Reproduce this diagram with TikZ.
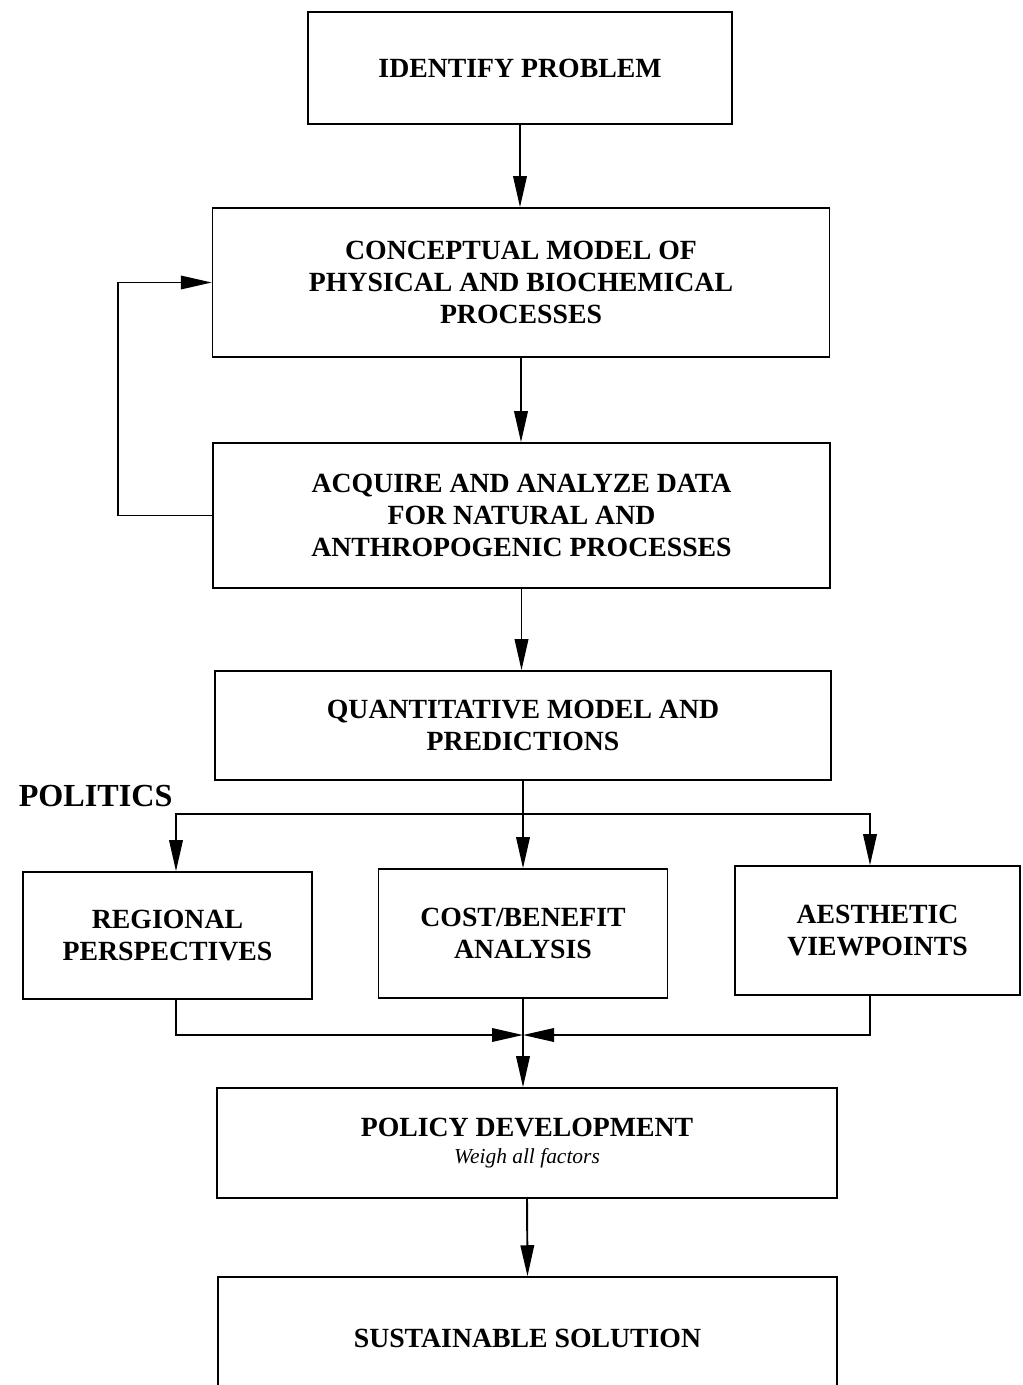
\documentclass[tikz,border=0pt]{standalone}
\usepackage{fontspec}
\setmainfont{Liberation Serif}
\usetikzlibrary{arrows.meta}

\tikzset{
  stage/.style={
    rectangle,
    draw,
    line width=0.9pt,
    inner sep=2pt,
    text centered,
    align=center,
    font=\bfseries\fontsize{15.8}{18.2}\selectfont
  },
}

\begin{document}
\begin{tikzpicture}[x=0.02cm, y=-0.02cm, -{Triangle[length=6.2mm,width=2.7mm]}, line width=1.1pt]
  \useasboundingbox (0,0) rectangle (1022,1385);
  \node[stage, minimum width=8.48cm, minimum height=2.24cm] (idp) at (520, 68) {IDENTIFY PROBLEM};
  \node[stage, minimum width=12.34cm, minimum height=2.98cm] (concept) at (521, 282.5) {CONCEPTUAL MODEL OF\\PHYSICAL AND BIOCHEMICAL\\PROCESSES};
  \node[stage, minimum width=12.34cm, minimum height=2.9cm] (acquire) at (521.5, 515.5) {ACQUIRE AND ANALYZE DATA\\FOR NATURAL AND\\ANTHROPOGENIC PROCESSES};
  \node[stage, minimum width=12.32cm, minimum height=2.18cm] (quant) at (523, 725.5) {QUANTITATIVE MODEL AND\\PREDICTIONS};
  \node[anchor=west, font=\bfseries\fontsize{18.3}{20}\selectfont] (politics) at (12, 796) {POLITICS};
  \node[stage, minimum width=5.78cm, minimum height=2.54cm] (regional) at (167.5, 935.5) {REGIONAL\\PERSPECTIVES};
  \node[stage, minimum width=5.78cm, minimum height=2.58cm] (cost) at (523, 933.5) {COST/BENEFIT\\ANALYSIS};
  \node[stage, minimum width=5.7cm, minimum height=2.58cm] (aesthetic) at (877.5, 930.5) {AESTHETIC\\VIEWPOINTS};
  \node[stage, minimum width=12.4cm, minimum height=2.2cm] (policy) at (527, 1143) {POLICY DEVELOPMENT\\[-3pt]{\mdseries\itshape\fontsize{12.2}{14}\selectfont Weigh all factors}};
  \node[stage, minimum width=12.38cm, minimum height=2.44cm] (sust) at (527.5, 1338) {SUSTAINABLE SOLUTION};
  \coordinate (split) at (523, 814);
  \coordinate (merge) at (523, 1035);
  \coordinate (rtop) at ([xshift=0.17cm]regional.north);
  \coordinate (rbot) at ([xshift=0.17cm]regional.south);
  \coordinate (atop) at ([xshift=-0.15cm]aesthetic.north);
  \coordinate (abot) at ([xshift=-0.15cm]aesthetic.south);
  % main line
  \draw (idp.south) -- (idp.south |- concept.north);
  \draw (concept.south) -- (concept.south |- acquire.north);
  \draw (acquire.south) -- (acquire.south |- quant.north);
  \draw (acquire.west) -- ++(-94, 0) |- (concept.west);
  % politics
  \draw (quant.south) -- (cost.north);
  \draw (split) -| (rtop);
  \draw (split) -| (atop);
  \draw (rbot) |- (merge);
  \draw (abot) |- (merge);
  \draw (cost.south) -- (cost.south |- policy.north);
  \draw (policy.south) -- (sust.north);
\end{tikzpicture}
\end{document}
